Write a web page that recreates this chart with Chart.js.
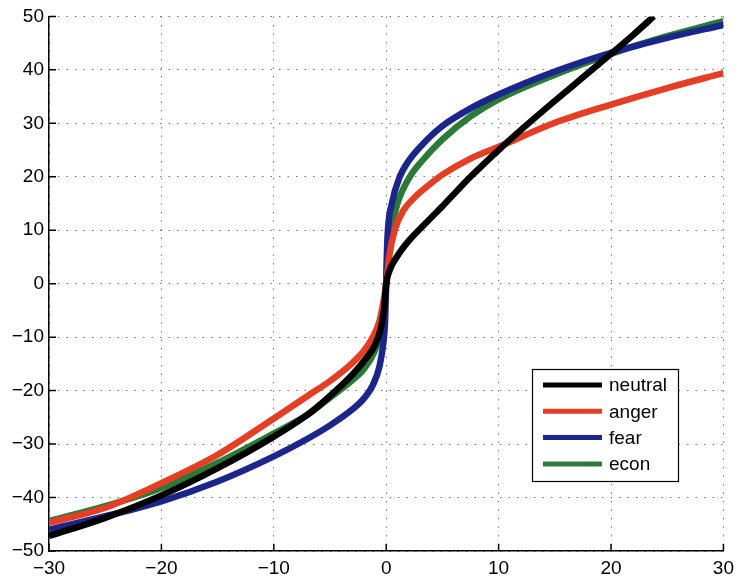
<!DOCTYPE html>
<html>
<head>
<meta charset="utf-8">
<script src="https://cdn.jsdelivr.net/npm/chart.js@4/dist/chart.umd.min.js"></script>
<style>
html, body { margin: 0; padding: 0; background: #fff; }
</style>
</head>
<body>
<canvas id="myChart" width="740" height="584"></canvas>
<script>
// values
const seriesNames = ['neutral', 'anger', 'fear', 'econ'];
const xTicks = [-30, -20, -10, 0, 10, 20, 30];
const yTicks = [-50, -40, -30, -20, -10, 0, 10, 20, 30, 40, 50];

const neutralX = [-30, -25, -20, -15, -10, -7, -5, -3, -2, -1, -0.5, -0.2, 0, 0.3, 1, 2, 3.5, 5, 7.5, 10, 12.5, 15, 17.5, 20, 22, 23.8];
const neutralY = [-47.2, -43.8, -39.6, -34.5, -28.6, -24.5, -21, -17, -14.5, -11.5, -8.5, -5, 0, 2.5, 5.2, 8, 11.3, 14.5, 20, 25, 29.7, 34.2, 38.6, 43, 46.6, 50];

const angerX = [-30, -25, -20, -15, -10, -7, -5, -3, -2, -1.2, -0.6, -0.3, 0, 0.3, 0.75, 1.5, 2.6, 4, 5, 7.5, 10, 15, 20, 25, 30];
const angerY = [-44.7, -41.9, -37.3, -32, -25.2, -21, -18.2, -14.8, -12.6, -10, -7, -4, 0, 5.5, 10, 13.6, 16.3, 18.8, 20.4, 23.4, 25.6, 30.1, 33.5, 36.6, 39.4];

const fearX = [-30, -25, -20, -15, -10, -7, -5, -3, -2, -1.2, -0.6, -0.25, -0.1, 0, 0.05, 0.15, 0.5, 1.2, 2, 3.2, 5, 7.5, 10, 15, 20, 25, 30];
const fearY = [-46, -43.5, -40.7, -37, -32.3, -29, -26.5, -23.5, -21.5, -19, -15.5, -11, -7, 0, 5, 10, 15, 20, 23, 26, 29.5, 32.8, 35.4, 39.7, 43.2, 46, 48.4];

const econX = [-30, -25, -20, -15, -10, -7, -5, -3, -2, -1, -0.5, -0.2, 0, 0.1, 0.45, 1, 2.1, 3.2, 5, 7.5, 10, 15, 20, 25, 30];
const econY = [-44.4, -41.6, -38.2, -33.5, -28, -24.5, -21.3, -18, -16, -12.5, -9, -5, 0, 5, 10, 15, 20, 23, 27, 31.3, 34.5, 39.1, 43, 46.3, 49.1];

const seriesX = [neutralX, angerX, fearX, econX];
const seriesY = [neutralY, angerY, fearY, econY];
const colors = ['#000000', 'rgb(228,62,36)', 'rgb(28,38,138)', 'rgb(42,122,56)'];

const minus = v => (v < 0 ? '\u2212' + Math.abs(v) : String(v));

// short ticks pointing into the plot, matlab style
const innerTicks = {
    id: 'innerTicks',
    afterDatasetsDraw(chart) {
        const ctx = chart.ctx;
        const a = chart.chartArea;
        const xs = chart.scales.x, ys = chart.scales.y;
        ctx.save();
        ctx.strokeStyle = '#000';
        ctx.lineWidth = 1.5;
        ctx.beginPath();
        xTicks.forEach(v => {
            const px = xs.getPixelForValue(v);
            ctx.moveTo(px, a.bottom);
            ctx.lineTo(px, a.bottom - 7);
        });
        yTicks.forEach(v => {
            const py = ys.getPixelForValue(v);
            ctx.moveTo(a.left, py);
            ctx.lineTo(a.left + 7, py);
        });
        ctx.stroke();
        ctx.restore();
    }
};

// legend box inside the plot, lower right
const boxLegend = {
    id: 'boxLegend',
    afterDraw(chart) {
        const ctx = chart.ctx;
        const left = 532, top = 369, w = 146, h = 112;
        ctx.save();
        ctx.fillStyle = '#fff';
        ctx.fillRect(left, top, w, h);
        ctx.strokeStyle = '#000';
        ctx.lineWidth = 1.2;
        ctx.strokeRect(left + 0.5, top + 0.5, w, h);
        ctx.font = '19px "Liberation Sans", Arial, sans-serif';
        ctx.textBaseline = 'middle';
        chart.data.datasets.forEach((ds, i) => {
            const y = top + 16 + i * 26.3;
            ctx.strokeStyle = ds.borderColor;
            ctx.lineWidth = 5;
            ctx.beginPath();
            ctx.moveTo(left + 11, y);
            ctx.lineTo(left + 70, y);
            ctx.stroke();
            ctx.fillStyle = '#000';
            ctx.fillText(ds.label, left + 77, y + 1);
        });
        ctx.restore();
    }
};

const ctx = document.getElementById('myChart').getContext('2d');
new Chart(ctx, {
    type: 'line',
    data: {
        datasets: seriesNames.map((name, i) => ({
            label: name,
            data: seriesX[i].map((x, j) => ({ x: x, y: seriesY[i][j] })),
            borderColor: colors[i],
            backgroundColor: colors[i],
            borderWidth: 6.5,
            pointRadius: 0,
            fill: false,
            cubicInterpolationMode: 'monotone',
            clip: 0
        }))
    },
    options: {
        responsive: false,
        animation: false,
        layout: { padding: { top: 15, right: 13, left: 0, bottom: 0 } },
        plugins: {
            legend: { display: false },
            tooltip: { enabled: false }
        },
        scales: {
            x: {
                type: 'linear',
                min: -30,
                max: 30,
                afterFit: s => { s.height = 33; },
                afterBuildTicks: s => { s.ticks = xTicks.map(v => ({ value: v })); },
                ticks: {
                    color: '#000',
                    padding: 6,
                    font: { family: '"Liberation Sans", Arial, sans-serif', size: 19 },
                    callback: minus
                },
                grid: { color: '#777', lineWidth: 1, drawTicks: false },
                border: { color: '#000', width: 1.5, dash: [1.5, 7] }
            },
            y: {
                min: -50,
                max: 50,
                afterFit: s => { s.width = 49; },
                afterBuildTicks: s => { s.ticks = yTicks.map(v => ({ value: v })); },
                ticks: {
                    color: '#000',
                    padding: 5,
                    font: { family: '"Liberation Sans", Arial, sans-serif', size: 19 },
                    callback: minus
                },
                grid: { color: '#777', lineWidth: 1, drawTicks: false },
                border: { color: '#000', width: 1.5, dash: [1.5, 7] }
            }
        }
    },
    plugins: [innerTicks, boxLegend]
});
</script>
</body>
</html>
